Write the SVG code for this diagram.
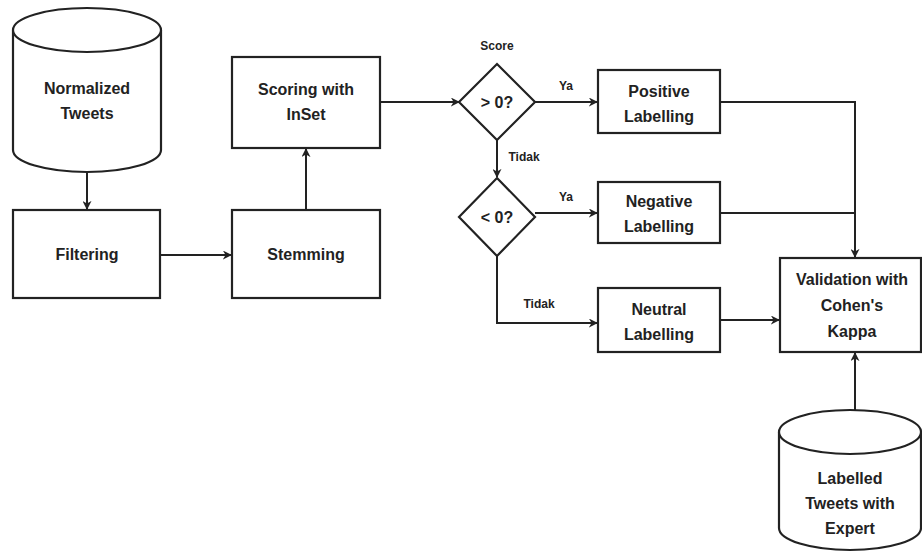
<svg xmlns="http://www.w3.org/2000/svg" width="922" height="557" viewBox="0 0 922 557">
<defs>
<marker id="ah" viewBox="0 0 10 10" refX="9" refY="5" markerWidth="9" markerHeight="9" orient="auto" markerUnits="userSpaceOnUse">
<path d="M0,0 L10,5 L0,10 L3,5 z" fill="#222"/>
</marker>
<style>
.n{fill:#fff;stroke:#222;stroke-width:2.2}
.t{font-family:"Liberation Sans",Arial,sans-serif;font-size:16px;font-weight:bold;fill:#222;text-anchor:middle}
.l{font-family:"Liberation Sans",Arial,sans-serif;font-size:12px;font-weight:bold;fill:#222;text-anchor:middle}
.c{fill:none;stroke:#222;stroke-width:2;marker-end:url(#ah)}
.p{fill:none;stroke:#222;stroke-width:2}
</style>
</defs>
<rect width="922" height="557" fill="#fff"/>
<g id="connectors">
<path class="c" d="M87,172 L87,209"/>
<path class="c" d="M160,255 L231,255"/>
<path class="c" d="M306,210 L306,149"/>
<path class="c" d="M380,102 L459,102"/>
<path class="c" d="M535,102 L597,102"/>
<path class="c" d="M497,140 L497,177"/>
<path class="c" d="M535,213 L597,213"/>
<path class="c" d="M497,256 L497,323 L597,323"/>
<path class="c" d="M720,320 L779,320"/>
<path class="p" d="M720,102 L855,102 L855,213"/>
<path class="p" d="M720,213 L855,213"/>
<path class="c" d="M855,213 L855,257"/>
<path class="c" d="M855,410 L855,353"/>
<text class="l" x="566" y="90">Ya</text>
<text class="l" x="524" y="161">Tidak</text>
<text class="l" x="566" y="201">Ya</text>
<text class="l" x="539" y="308">Tidak</text>
<text class="l" x="497" y="50">Score</text>
</g>
<g id="normalized-tweets">
<path class="n" d="M13,30 L13,150 A74,22 0 0 0 161,150 L161,30"/>
<ellipse class="n" cx="87" cy="30" rx="74" ry="22"/>
<text class="t" x="87" y="94">Normalized</text>
<text class="t" x="87" y="119">Tweets</text>
</g>
<g id="filtering">
<rect class="n" x="13" y="210" width="147" height="88"/>
<text class="t" x="87" y="260">Filtering</text>
</g>
<g id="stemming">
<rect class="n" x="232" y="210" width="148" height="88"/>
<text class="t" x="306" y="260">Stemming</text>
</g>
<g id="scoring">
<rect class="n" x="232" y="57" width="148" height="91"/>
<text class="t" x="306" y="95">Scoring with</text>
<text class="t" x="306" y="120">InSet</text>
</g>
<g id="decision-positive">
<path class="n" d="M497,64 L535,102 L497,140 L459,102 z"/>
<text class="t" x="497" y="108">&gt; 0?</text>
</g>
<g id="decision-negative">
<path class="n" d="M497,178 L535,217 L497,256 L459,217 z"/>
<text class="t" x="497" y="223">&lt; 0?</text>
</g>
<g id="positive-labelling">
<rect class="n" x="598" y="70" width="122" height="63"/>
<text class="t" x="659" y="97">Positive</text>
<text class="t" x="659" y="122">Labelling</text>
</g>
<g id="negative-labelling">
<rect class="n" x="598" y="182" width="122" height="61"/>
<text class="t" x="659" y="207">Negative</text>
<text class="t" x="659" y="232">Labelling</text>
</g>
<g id="neutral-labelling">
<rect class="n" x="598" y="288" width="122" height="64"/>
<text class="t" x="659" y="315">Neutral</text>
<text class="t" x="659" y="340">Labelling</text>
</g>
<g id="validation">
<rect class="n" x="780" y="258" width="141" height="94"/>
<text class="t" x="852" y="285">Validation with</text>
<text class="t" x="852" y="311">Cohen's</text>
<text class="t" x="852" y="337">Kappa</text>
</g>
<g id="labelled-tweets">
<path class="n" d="M779,432 L779,528 A71,22 0 0 0 921,528 L921,432"/>
<ellipse class="n" cx="850" cy="432" rx="71" ry="22"/>
<text class="t" x="850" y="484">Labelled</text>
<text class="t" x="850" y="509">Tweets with</text>
<text class="t" x="850" y="534">Expert</text>
</g>
</svg>
